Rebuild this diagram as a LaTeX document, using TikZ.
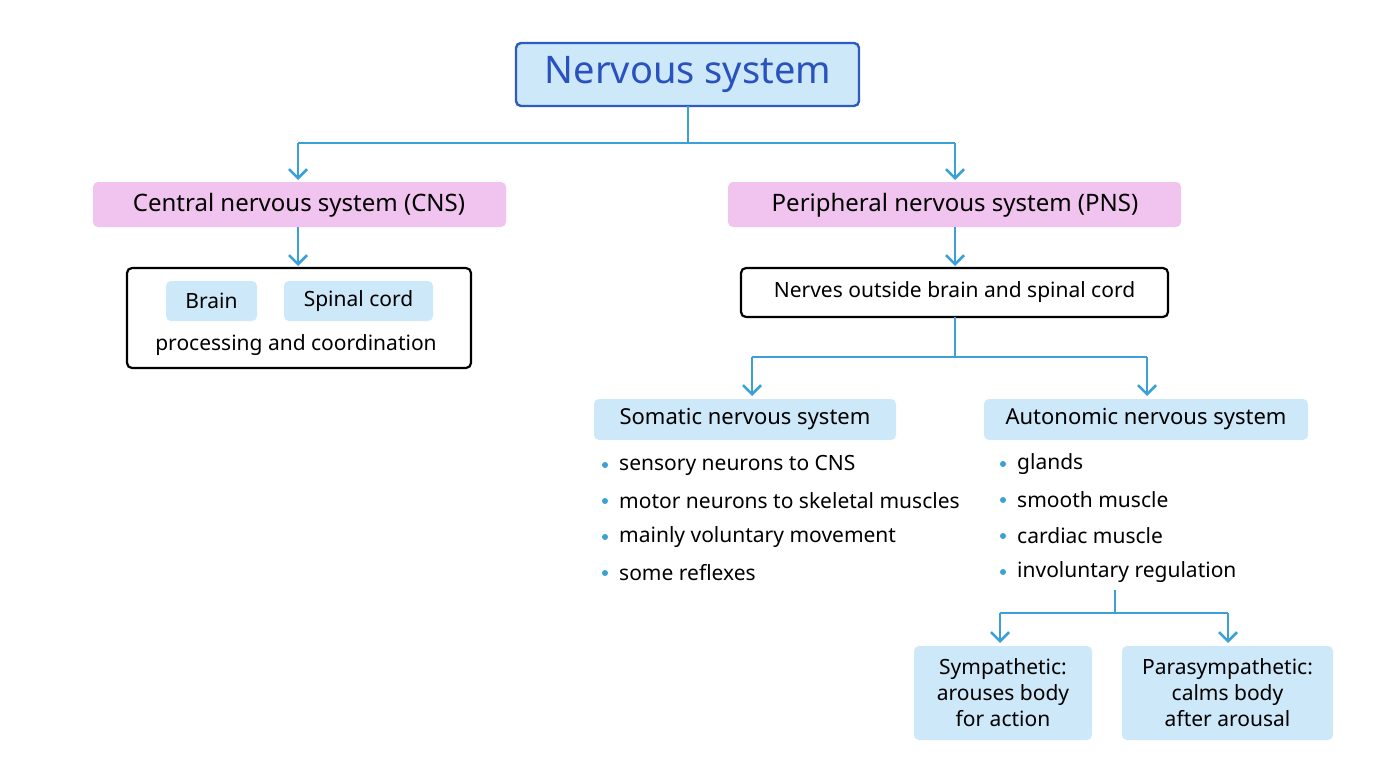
\documentclass[tikz,border=0pt]{standalone}
\usepackage{fontspec}
\setmainfont{Noto Sans}
\usetikzlibrary{arrows.meta}
\definecolor{lb}{HTML}{CDE8F8}
\definecolor{pk}{HTML}{F0C4EE}
\definecolor{db}{HTML}{2E5BBF}
\definecolor{tb}{HTML}{2A52BE}
\definecolor{ln}{HTML}{3AA0D5}
\begin{document}
\begin{tikzpicture}[x=1pt,y=-1pt,
  conn/.style={draw=ln,line width=2.6pt,-{Straight Barb[length=9pt,width=18pt,line width=2.6pt]}},
  seg/.style={draw=ln,line width=2.6pt},
  pinkbox/.style={fill=pk,rounded corners=5pt,font=\fontsize{24}{28}\selectfont\bfseries},
  bluebox/.style={fill=lb,rounded corners=5pt,font=\fontsize{22}{26}\selectfont\bfseries},
  wbox/.style={draw=black,line width=2.2pt,fill=white,rounded corners=5pt},
  bul/.style={anchor=west,font=\fontsize{21}{25}\selectfont,inner sep=0pt},
  dot/.style={circle,fill=ln,inner sep=0pt,minimum size=6pt}]
\useasboundingbox (0,0) rectangle (1376,768);
\fill[white] (0,0) rectangle (1376,768);
% title
\draw[fill=lb,draw=db,line width=2.4pt,rounded corners=5pt] (516,43) rectangle (859,106);
\node[text=tb,font=\fontsize{38}{44}\selectfont\bfseries] (ns) at (688,74) {Nervous system};
\coordinate (nsb) at (688,106);
\coordinate (nsj) at (688,143);
% level 1
\fill[pk,rounded corners=5pt] (93,182) rectangle (506,227);
\node[font=\fontsize{24}{28}\selectfont\bfseries] (cns) at (299,205) {Central nervous system (CNS)};
\fill[pk,rounded corners=5pt] (728,182) rectangle (1181,227);
\node[font=\fontsize{24}{28}\selectfont\bfseries] (pns) at (955,205) {Peripheral nervous system (PNS)};
\coordinate (c1) at (298,143); \coordinate (c1e) at (298,180);
\coordinate (p1) at (955,143); \coordinate (p1e) at (955,180);
\draw[seg] (nsb) -- (nsj);
\draw[seg] (c1) -- (p1);
\draw[conn] (c1) -- (c1e);
\draw[conn] (p1) -- (p1e);
% CNS box
\draw[wbox] (127,268) rectangle (471,368);
\fill[lb,rounded corners=5pt] (166,281) rectangle (257,321);
\fill[lb,rounded corners=5pt] (284,281) rectangle (433,321);
\node[font=\fontsize{21}{25}\selectfont\bfseries] (brain) at (211.5,301) {Brain};
\node[font=\fontsize{21}{25}\selectfont\bfseries] (spinal) at (358.5,301) {Spinal cord};
\node[font=\fontsize{21}{25}\selectfont] (proc) at (296,345) {processing and coordination};
\coordinate (c2s) at (298,227); \coordinate (c2e) at (298,266);
\draw[conn] (c2s) -- (c2e);
% PNS box
\draw[wbox] (741,268) rectangle (1168,317);
\node[font=\fontsize{21}{25}\selectfont] (nerves) at (954.5,292) {Nerves outside brain and spinal cord};
\coordinate (p2s) at (955,227); \coordinate (p2e) at (955,266);
\draw[conn] (p2s) -- (p2e);
\coordinate (p3s) at (955,317); \coordinate (p3j) at (955,357);
\coordinate (sj) at (752,357); \coordinate (se) at (752,396);
\coordinate (aj) at (1147,357); \coordinate (ae) at (1147,396);
\draw[seg] (p3s) -- (p3j); \draw[seg] (sj) -- (aj);
\draw[conn] (sj) -- (se); \draw[conn] (aj) -- (ae);
% somatic / autonomic
\fill[lb,rounded corners=5pt] (594,399) rectangle (896,440);
\node[font=\fontsize{22}{26}\selectfont\bfseries] (som) at (745,419.5) {Somatic nervous system};
\fill[lb,rounded corners=5pt] (984,399) rectangle (1308,440);
\node[font=\fontsize{22}{26}\selectfont\bfseries] (aut) at (1146,419.5) {Autonomic nervous system};
\foreach \t [count=\i] in {sensory neurons to CNS,motor neurons to skeletal muscles,mainly voluntary movement,some reflexes}{
  \node[dot] (sd\i) at (605,{429+36*\i}) {};
  \node[bul] (st\i) at (619,{429+36*\i}) {\t};
}
\foreach \t [count=\i] in {glands,smooth muscle,cardiac muscle,involuntary regulation}{
  \node[dot] (ad\i) at (1003,{428+36*\i}) {};
  \node[bul] (at\i) at (1017,{428+36*\i}) {\t};
}
\coordinate (a3s) at (1115,590); \coordinate (a3j) at (1115,613);
\coordinate (yj) at (1000,613); \coordinate (ye) at (1000,643);
\coordinate (qj) at (1228,613); \coordinate (qe) at (1228,643);
\draw[seg] (a3s) -- (a3j); \draw[seg] (yj) -- (qj);
\draw[conn] (yj) -- (ye); \draw[conn] (qj) -- (qe);
\fill[lb,rounded corners=5pt] (914,646) rectangle (1092,740);
\node[font=\fontsize{21}{26}\selectfont,align=center] (sym) at (1003,693) {\textbf{Sympathetic:}\\arouses body\\for action};
\fill[lb,rounded corners=5pt] (1122,646) rectangle (1333,740);
\node[font=\fontsize{21}{26}\selectfont,align=center] (par) at (1227.5,693) {\textbf{Parasympathetic:}\\calms body\\after arousal};
\end{tikzpicture}
\end{document}
